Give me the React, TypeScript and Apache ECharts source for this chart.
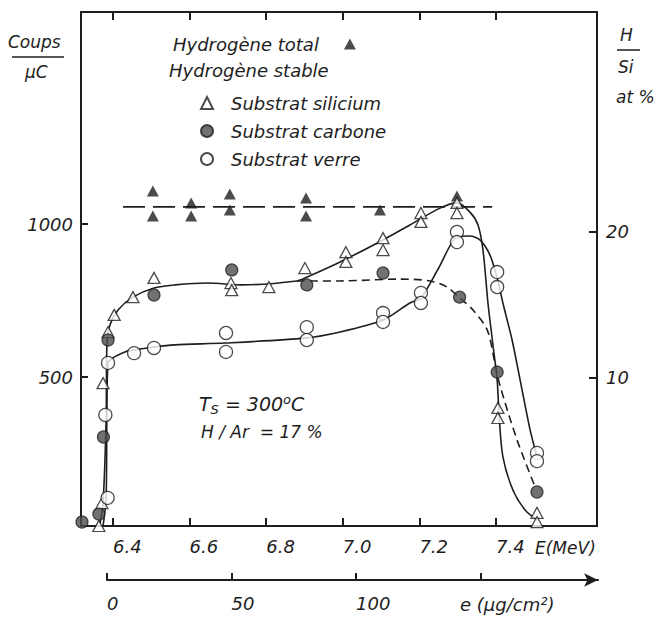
import React, { useEffect, useRef } from 'react';
import * as echarts from 'echarts';

// ---- ticks ----
const energyTicks = [6.4, 6.6, 6.8, 7.0, 7.2, 7.4];
const countTicks = [500, 1000];
const ratioTicks = [10, 20];
const thicknessTicks = [0, 50, 100, 150];
const thicknessLabels = [0, 50, 100];

// ---- data points (E MeV, coups/µC) ----
const totalH = [
  [6.504, 1108], [6.504, 1026], [6.604, 1069], [6.604, 1026], [6.705, 1098], [6.705, 1046],
  [6.904, 1085], [6.904, 1026], [7.097, 1046], [7.298, 1092],
];
const totalHLine = [[6.426, 1056], [7.39, 1056]];

const silicium = [
  [6.363, 13], [6.371, 88], [6.374, 480], [6.387, 647], [6.403, 703], [6.452, 761], [6.507, 824],
  [6.708, 807], [6.71, 784], [6.807, 794], [6.901, 856], [7.008, 908], [7.008, 876], [7.105, 954], [7.105, 915],
  [7.204, 1036], [7.204, 1007], [7.298, 1069], [7.298, 1036], [7.405, 399], [7.405, 366],
  [7.507, 56], [7.507, 26],
];
const carbone = [
  [6.319, 26], [6.363, 52], [6.375, 304], [6.387, 621], [6.507, 768], [6.71, 850], [6.906, 801],
  [7.105, 840], [7.305, 761], [7.403, 516], [7.507, 124],
];
const verre = [
  [6.386, 105], [6.38, 376], [6.387, 546], [6.455, 578], [6.507, 595], [6.695, 644], [6.695, 582],
  [6.906, 663], [6.906, 621], [7.105, 709], [7.105, 680], [7.204, 775], [7.204, 742],
  [7.298, 974], [7.298, 941], [7.403, 843], [7.403, 794], [7.507, 252], [7.507, 225],
];

// ---- hand-drawn curves ----
const siliciumCurve = [
  [6.366, 20], [6.374, 88], [6.382, 360], [6.384, 605], [6.392, 670], [6.413, 719], [6.452, 761],
  [6.507, 791], [6.562, 801], [6.648, 807], [6.737, 801], [6.88, 814], [6.907, 827], [6.993, 876],
  [7.105, 948], [7.175, 997], [7.254, 1052], [7.298, 1069], [7.332, 1039], [7.353, 997], [7.366, 915],
  [7.379, 742], [7.392, 605], [7.403, 490], [7.408, 376], [7.418, 239], [7.444, 131], [7.476, 65],
  [7.507, 33],
];
const carboneCurve = [
  [6.88, 814], [6.993, 814], [7.149, 820], [7.228, 814], [7.272, 794], [7.303, 761], [7.34, 719],
  [7.377, 654], [7.397, 546], [7.41, 474], [7.455, 294], [7.502, 141],
];
const verreCurve = [
  [6.374, 13], [6.382, 105], [6.384, 376], [6.387, 546], [6.431, 582], [6.455, 588], [6.507, 598],
  [6.562, 605], [6.692, 611], [6.901, 627], [6.993, 647], [7.105, 686], [7.175, 742], [7.204, 758],
  [7.251, 858], [7.298, 958], [7.332, 961], [7.358, 948], [7.384, 899], [7.403, 824], [7.418, 742],
  [7.442, 621], [7.463, 490], [7.489, 327], [7.507, 239],
];

const INK = '#1e1e1e';
const FF = 'DejaVu Sans';

export default function App() {
  const ref = useRef<HTMLDivElement>(null);
  useEffect(() => {
    if (!ref.current) return;
    const chart = echarts.init(ref.current, null, { renderer: 'svg' });
    const tickFont = { fontFamily: FF, fontStyle: 'italic', fontSize: 18, color: INK };
    const txt = (x: number, y: number, text: string, size = 18, align = 'left', extra: any = {}) => ({
      type: 'text', x, y,
      style: { text, fontFamily: FF, fontStyle: 'italic', fontSize: size, fill: INK, align, verticalAlign: 'middle', ...extra },
    });
    const option: any = {
      animation: false,
      backgroundColor: '#fff',
      grid: [
        { left: 81, right: 63, top: 12, bottom: 92 },
        { left: 107, right: 62, top: 579, height: 1 },
      ],
      xAxis: [
        {
          gridIndex: 0, type: 'value', min: 6.3164, max: 7.6637, position: 'bottom',
          axisLine: { onZero: false, lineStyle: { color: INK, width: 2 } },
          axisTick: { inside: true, length: 8, customValues: energyTicks, lineStyle: { color: INK, width: 2 } },
          axisLabel: { customValues: energyTicks, formatter: (v: number) => v.toFixed(1), margin: 11, align: 'left', ...tickFont },
          splitLine: { show: false },
        },
        {
          gridIndex: 0, type: 'value', min: 6.3164, max: 7.6637, position: 'top',
          axisLine: { onZero: false, lineStyle: { color: INK, width: 2 } },
          axisTick: { inside: true, length: 8, customValues: energyTicks, lineStyle: { color: INK, width: 2 } },
          axisLabel: { show: false },
          splitLine: { show: false },
        },
        {
          gridIndex: 1, type: 'value', min: 0, max: 197.2, position: 'bottom',
          axisLine: { onZero: false, symbol: ['none', 'arrow'], symbolSize: [10, 14], lineStyle: { color: INK, width: 2 } },
          axisTick: { inside: true, length: 7, customValues: thicknessTicks, lineStyle: { color: INK, width: 2 } },
          axisLabel: { customValues: thicknessLabels, formatter: (v: number) => String(v), margin: 14, align: 'left', ...tickFont },
          splitLine: { show: false },
        },
      ],
      yAxis: [
        {
          gridIndex: 0, type: 'value', min: 13, max: 1693, position: 'left',
          axisLine: { show: true, onZero: false, lineStyle: { color: INK, width: 2 } },
          axisTick: { show: true, inside: true, length: 7, customValues: countTicks, lineStyle: { color: INK, width: 2 } },
          axisLabel: { customValues: countTicks, formatter: (v: number) => String(v), margin: 8, padding: [0, 0, 10, 0], ...tickFont },
          splitLine: { show: false },
        },
        {
          gridIndex: 0, type: 'value', min: -0.14, max: 35.07, position: 'right',
          axisLine: { show: true, onZero: false, lineStyle: { color: INK, width: 2 } },
          axisTick: { show: true, inside: true, length: 8, customValues: ratioTicks, lineStyle: { color: INK, width: 2 } },
          axisLabel: { customValues: ratioTicks, formatter: (v: number) => String(v), margin: 9, padding: [0, 0, 10, 0], ...tickFont },
          splitLine: { show: false },
        },
        { gridIndex: 1, type: 'value', show: false, min: 0, max: 1 },
      ],
      legend: [
        {
          data: ['Hydrogène total'], left: 168, top: 30, align: 'right', selectedMode: false,
          itemWidth: 12, itemHeight: 11,
          textStyle: { fontFamily: FF, fontStyle: 'italic', fontSize: 18, color: INK, padding: [0, 20, 0, 0] },
        },
        {
          data: ['Substrat silicium', 'Substrat carbone', 'Substrat verre'], orient: 'vertical',
          left: 195, top: 89, itemGap: 10, selectedMode: false, itemWidth: 12, itemHeight: 12,
          textStyle: { fontFamily: FF, fontStyle: 'italic', fontSize: 18, color: INK, padding: [0, 0, 0, 13] },
        },
      ],
      graphic: [
        txt(169, 70, 'Hydrogène stable'),
        txt(8, 42, 'Coups', 17),
        { type: 'line', shape: { x1: 12, y1: 57, x2: 64, y2: 57 }, style: { stroke: INK, lineWidth: 1.5 } },
        txt(25, 72, 'µC', 17),
        txt(620, 35, 'H', 17),
        { type: 'line', shape: { x1: 617, y1: 50, x2: 640, y2: 50 }, style: { stroke: INK, lineWidth: 1.5 } },
        txt(618, 67, 'Si', 17),
        txt(616, 97, 'at %', 17),
        {
          type: 'text', x: 199, y: 404,
          style: {
            text: '{n|T}{s|S}{n| = 300}{o|o}{n|C}', verticalAlign: 'middle', fill: INK,
            rich: {
              n: { fontFamily: FF, fontStyle: 'italic', fontSize: 19, fill: INK },
              s: { fontFamily: FF, fontStyle: 'italic', fontSize: 13, fill: INK, padding: [10, 0, 0, 0] },
              o: { fontFamily: FF, fontStyle: 'italic', fontSize: 13, fill: INK, padding: [0, 0, 10, 0] },
            },
          },
        },
        txt(201, 432, 'H / Ar  = 17 %', 17),
        txt(535, 548, 'E(MeV)', 17),
        txt(460, 604, 'e (µg/cm²)', 18),
      ],
      series: [
        { type: 'line', data: totalHLine, symbol: 'none', silent: true, z: 1,
          lineStyle: { color: INK, width: 1.6, type: [22, 8] } },
        { type: 'line', data: siliciumCurve, smooth: 0.3, symbol: 'none', silent: true, z: 1,
          lineStyle: { color: INK, width: 1.6 } },
        { type: 'line', data: carboneCurve, smooth: 0.3, symbol: 'none', silent: true, z: 1,
          lineStyle: { color: INK, width: 1.6, type: [8, 5] } },
        { type: 'line', data: verreCurve, smooth: 0.25, symbol: 'none', silent: true, z: 1,
          lineStyle: { color: INK, width: 1.6 } },
        { type: 'scatter', name: 'Hydrogène total', data: totalH, symbol: 'triangle', symbolSize: [12, 11], z: 3,
          itemStyle: { color: INK } },
        { type: 'scatter', name: 'Substrat silicium', data: silicium, symbol: 'triangle', symbolSize: [12, 11], z: 3,
          itemStyle: { color: '#fff', borderColor: INK, borderWidth: 1.3 } },
        { type: 'scatter', name: 'Substrat carbone', data: carbone, symbol: 'circle', symbolSize: 12, z: 3,
          itemStyle: { color: '#4d4d4d', borderColor: '#222', borderWidth: 1.2 } },
        { type: 'scatter', name: 'Substrat verre', data: verre, symbol: 'circle', symbolSize: 13, z: 3,
          itemStyle: { color: '#fff', borderColor: INK, borderWidth: 1.3 } },
      ],
    };
    chart.setOption(option);
    return () => chart.dispose();
  }, []);
  return <div ref={ref} style={{ width: 660, height: 618, position: 'absolute', left: 0, top: 0 }} />;
}
